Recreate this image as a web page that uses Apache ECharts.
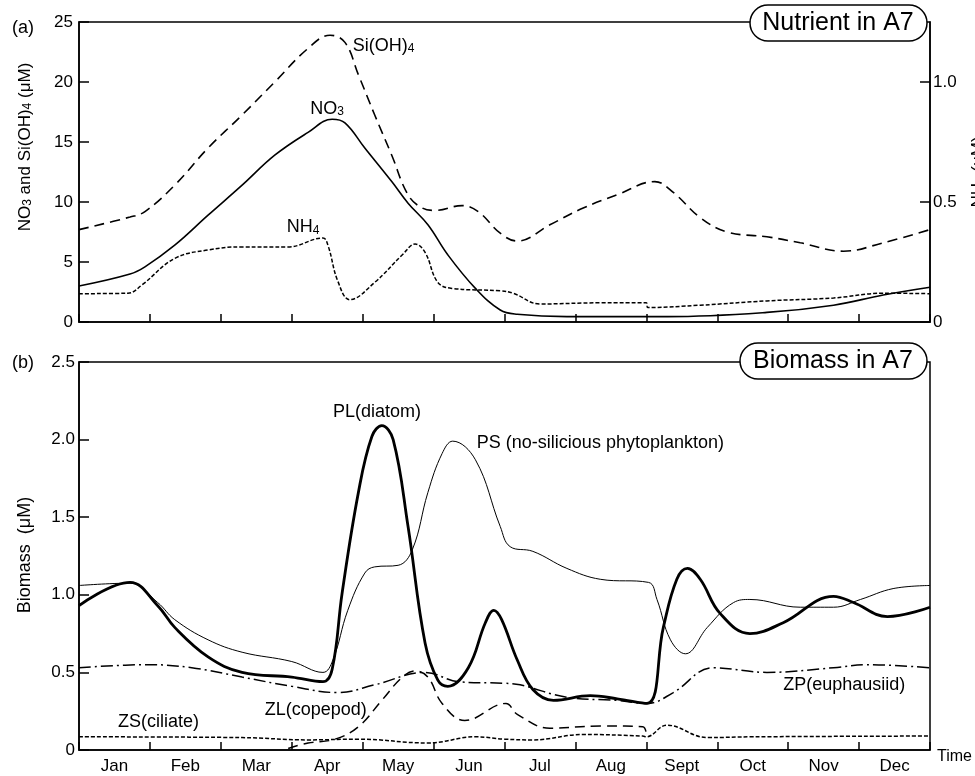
<!DOCTYPE html>
<html><head><meta charset="utf-8">
<script src="https://cdn.jsdelivr.net/npm/echarts@6/dist/echarts.min.js"></script>
<style>html,body{margin:0;padding:0;background:#fff}#c{width:975px;height:776px}</style>
</head><body><div id="c"></div>
<script>
// ---------- data (x = months since 1 Jan, y = value) ----------
const months = ['Jan','Feb','Mar','Apr','May','Jun','Jul','Aug','Sept','Oct','Nov','Dec'];
const monthCenters = [0.5,1.5,2.5,3.5,4.5,5.5,6.5,7.5,8.5,9.5,10.5,11.5];
const nh4Ticks = [0, 0.5, 1.0];

// (a) nutrients, μM
const siOH4 = [[0,7.7],[0.72,8.75],[0.93,9.2],[1.35,11.4],[1.82,14.5],[2.3,17.25],[2.76,20],[3.23,22.8],[3.54,23.9],[3.75,23.3],[3.94,20.6],[4.17,17.25],[4.41,13.9],[4.64,10.6],[4.84,9.5],[5.02,9.3],[5.4,9.7],[5.63,9.2],[5.94,7.4],[6.18,6.75],[6.64,8.1],[7.11,9.5],[7.59,10.6],[8.12,11.7],[8.38,10.8],[8.76,8.7],[9.14,7.5],[9.7,7.1],[10.17,6.6],[10.78,5.9],[11.34,6.6],[12,7.7]];
const no3 = [[0,3.0],[0.72,4.0],[0.93,4.6],[1.35,6.4],[1.82,8.9],[2.3,11.4],[2.76,13.9],[3.23,15.8],[3.57,16.9],[3.75,16.6],[4.03,14.5],[4.41,11.7],[4.64,9.9],[4.92,8.1],[5.2,5.6],[5.59,2.8],[5.94,1.0],[6.18,0.65],[6.88,0.45],[8.3,0.45],[9.7,0.8],[10.64,1.4],[11.34,2.25],[12,2.9]];
const nh4 = [[0,0.118],[0.69,0.12],[0.89,0.155],[1.35,0.265],[1.82,0.30],[2.3,0.313],[2.95,0.313],[3.44,0.35],[3.51,0.32],[3.65,0.17],[3.82,0.093],[4.17,0.165],[4.56,0.28],[4.74,0.325],[4.88,0.29],[5.06,0.165],[5.26,0.14],[5.94,0.13],[6.12,0.12],[6.5,0.075],[7.35,0.08],[8.0,0.08],[8.02,0.06],[8.76,0.07],[9.7,0.088],[10.64,0.10],[11.34,0.12],[12,0.118]];

// (b) biomass, μM
const plDiatom = [[0,0.93],[0.72,1.08],[1.11,0.93],[1.35,0.79],[1.82,0.60],[2.3,0.50],[3.0,0.47],[3.44,0.44],[3.57,0.52],[3.71,1.01],[3.94,1.66],[4.13,2.02],[4.27,2.09],[4.43,2.0],[4.64,1.44],[4.88,0.69],[5.06,0.45],[5.2,0.41],[5.49,0.53],[5.73,0.82],[5.85,0.90],[5.96,0.84],[6.18,0.58],[6.4,0.39],[6.69,0.32],[7.21,0.35],[7.59,0.33],[8.01,0.30],[8.24,0.79],[8.43,1.10],[8.58,1.17],[8.76,1.10],[9.04,0.88],[9.46,0.75],[9.93,0.82],[10.64,0.99],[10.92,0.95],[11.4,0.86],[12,0.92]];
const psNonSil = [[0,1.06],[0.72,1.075],[1.11,0.95],[1.35,0.84],[1.82,0.71],[2.3,0.63],[3.0,0.57],[3.44,0.50],[3.58,0.58],[3.79,0.90],[4.03,1.14],[4.17,1.18],[4.5,1.19],[4.7,1.29],[4.92,1.66],[5.12,1.91],[5.27,1.99],[5.59,1.87],[5.94,1.44],[6.08,1.31],[6.4,1.28],[6.88,1.17],[7.35,1.10],[8.03,1.08],[8.15,0.97],[8.34,0.71],[8.55,0.62],[8.86,0.79],[9.23,0.95],[9.46,0.97],[10.17,0.92],[10.64,0.92],[11.02,0.97],[11.48,1.04],[12,1.06]];
const zpEuph = [[0,0.53],[0.97,0.55],[1.59,0.53],[2.3,0.47],[3.0,0.41],[3.65,0.37],[4.17,0.42],[4.88,0.50],[5.35,0.44],[6.0,0.43],[6.22,0.42],[6.88,0.34],[7.59,0.32],[8.01,0.30],[8.38,0.37],[8.94,0.53],[9.7,0.50],[10.64,0.53],[11.1,0.55],[12,0.53]];
const zlCope = [[2.95,0.01],[3.23,0.045],[3.61,0.07],[3.94,0.15],[4.27,0.32],[4.56,0.47],[4.74,0.51],[4.92,0.47],[5.12,0.30],[5.44,0.19],[6.02,0.30],[6.18,0.23],[6.64,0.14],[7.35,0.155],[7.95,0.15],[8.0,0.10]];
const zsCil = [[0,0.085],[2.3,0.08],[3.23,0.065],[3.94,0.07],[4.92,0.045],[5.59,0.085],[6.0,0.07],[6.4,0.065],[7.11,0.10],[7.95,0.09],[8.0,0.085],[8.29,0.16],[8.86,0.08],[9.5,0.085],[12,0.09]];

// ---------- styling ----------
const FONT = "'Liberation Sans', Arial, Helvetica, sans-serif";
const BLACK = '#000';
const chart = echarts.init(document.getElementById('c'), null, {renderer: 'canvas'});

function line(name, data, xi, yi, width, type) {
  return {
    name, type: 'line', data, xAxisIndex: xi, yAxisIndex: yi,
    showSymbol: false, symbol: 'none', smooth: 0.4,
    lineStyle: {color: BLACK, width, type}, silent: true, z: 3
  };
}
const decFmt = v => v === 0 ? '0' : v.toFixed(1);
const axisLineStyle = {show: true, lineStyle: {color: BLACK, width: 1.5}};
const tickStyle = {color: BLACK, width: 1.5};

const option = {
  animation: false,
  backgroundColor: '#fff',
  textStyle: {fontFamily: FONT, color: BLACK},
  grid: [
    {left: 79, top: 22, width: 851, height: 300, show: true, borderColor: BLACK, borderWidth: 1.5, containLabel: false, outerBoundsMode: 'none'},
    {left: 79, top: 362, width: 851, height: 388, show: true, borderColor: BLACK, borderWidth: 1.5, containLabel: false, outerBoundsMode: 'none'}
  ],
  xAxis: [
    {type: 'value', gridIndex: 0, min: 0, max: 12, interval: 1,
     axisLine: axisLineStyle,
     axisTick: {show: true, inside: true, length: 8, lineStyle: tickStyle},
     axisLabel: {show: false}, splitLine: {show: false}},
    {type: 'value', gridIndex: 1, min: 0, max: 12, interval: 1,
     axisLine: axisLineStyle,
     axisTick: {show: true, inside: true, length: 8, lineStyle: tickStyle},
     axisLabel: {show: true, customValues: monthCenters, formatter: v => months[Math.floor(v)],
                 color: BLACK, fontSize: 17, fontFamily: FONT, margin: 8},
     splitLine: {show: false}}
  ],
  yAxis: [
    {type: 'value', gridIndex: 0, min: 0, max: 25, interval: 5,
     axisLine: axisLineStyle,
     axisTick: {show: true, inside: true, length: 10, lineStyle: tickStyle},
     axisLabel: {color: BLACK, fontSize: 17, fontFamily: FONT, margin: 6},
     splitLine: {show: false}},
    {type: 'value', gridIndex: 0, position: 'right', min: 0, max: 1.25,
     axisLine: axisLineStyle,
     axisTick: {show: true, inside: true, length: 10, customValues: nh4Ticks, lineStyle: tickStyle},
     axisLabel: {color: BLACK, fontSize: 17, fontFamily: FONT, margin: 3, customValues: nh4Ticks, formatter: decFmt},
     splitLine: {show: false}},
    {type: 'value', gridIndex: 1, min: 0, max: 2.5, interval: 0.5,
     axisLine: axisLineStyle,
     axisTick: {show: true, inside: true, length: 10, lineStyle: tickStyle},
     axisLabel: {color: BLACK, fontSize: 17, fontFamily: FONT, margin: 4, formatter: decFmt},
     splitLine: {show: false}}
  ],
  series: [
    line('Si(OH)4', siOH4, 0, 0, 1.6, [10, 6]),
    line('NO3', no3, 0, 0, 1.6, 'solid'),
    line('NH4', nh4, 0, 1, 1.5, [4, 2]),
    line('PL(diatom)', plDiatom, 1, 2, 2.8, 'solid'),
    line('PS (no-silicious phytoplankton)', psNonSil, 1, 2, 1, 'solid'),
    line('ZP(euphausiid)', zpEuph, 1, 2, 1.5, [12, 4, 2, 4]),
    line('ZL(copepod)', zlCope, 1, 2, 1.5, [10, 6]),
    line('ZS(ciliate)', zsCil, 1, 2, 1.5, [4, 2])
  ]
};
chart.setOption(option);

// ---------- text annotations (anchored in data coordinates) ----------
const richStyle = {
  n: {fontSize: 18, fontFamily: FONT, fill: BLACK, verticalAlign: 'bottom'},
  s: {fontSize: 12, fontFamily: FONT, fill: BLACK, verticalAlign: 'bottom'}
};
const annotations = [
  {text: '{n|Si(OH)}{s|4}', pos: [3.86, 23.0], grid: 0},
  {text: '{n|NO}{s|3}', pos: [3.26, 17.75], grid: 0},
  {text: '{n|NH}{s|4}', pos: [2.93, 7.9], grid: 0},
  {text: '{n|PL(diatom)}', pos: [3.58, 2.18], grid: 1},
  {text: '{n|PS (no-silicious phytoplankton)}', pos: [5.61, 1.98], grid: 1},
  {text: '{n|ZS(ciliate)}', pos: [0.55, 0.18], grid: 1},
  {text: '{n|ZL(copepod)}', pos: [2.62, 0.26], grid: 1},
  {text: '{n|ZP(euphausiid)}', pos: [9.93, 0.42], grid: 1}
];
const graphics = [];
annotations.forEach(a => {
  const p = chart.convertToPixel(a.grid === 0 ? {xAxisIndex: 0, yAxisIndex: 0} : {xAxisIndex: 1, yAxisIndex: 2}, a.pos);
  graphics.push({type: 'text', x: p[0], y: p[1], z: 10,
    style: {text: a.text, rich: richStyle, align: 'left', verticalAlign: 'middle'}});
});

// panel titles in rounded boxes
graphics.push({type: 'rect', shape: {x: 750, y: 5, width: 177, height: 36, r: 18}, z: 20,
  style: {fill: '#fff', stroke: BLACK, lineWidth: 1.5}});
graphics.push({type: 'text', x: 838, y: 23, z: 21,
  style: {text: 'Nutrient in A7', fontSize: 25, fontFamily: FONT, fill: BLACK, align: 'center', verticalAlign: 'middle'}});
graphics.push({type: 'rect', shape: {x: 740, y: 343, width: 187, height: 36, r: 18}, z: 20,
  style: {fill: '#fff', stroke: BLACK, lineWidth: 1.5}});
graphics.push({type: 'text', x: 833, y: 361, z: 21,
  style: {text: 'Biomass in A7', fontSize: 25, fontFamily: FONT, fill: BLACK, align: 'center', verticalAlign: 'middle'}});

// panel letters
graphics.push({type: 'text', x: 12, y: 28, style: {text: '(a)', fontSize: 18, fontFamily: FONT, fill: BLACK, align: 'left', verticalAlign: 'middle'}});
graphics.push({type: 'text', x: 12, y: 363, style: {text: '(b)', fontSize: 18, fontFamily: FONT, fill: BLACK, align: 'left', verticalAlign: 'middle'}});

// axis titles
const axRich = {
  n: {fontSize: 17, fontFamily: FONT, fill: BLACK, verticalAlign: 'bottom'},
  s: {fontSize: 12, fontFamily: FONT, fill: BLACK, verticalAlign: 'bottom'}
};
graphics.push({type: 'text', x: 25, y: 147, rotation: Math.PI / 2,
  style: {text: '{n|NO}{s|3}{n| and Si(OH)}{s|4}{n| (μM)}', rich: axRich, align: 'center', verticalAlign: 'middle'}});
graphics.push({type: 'text', x: 978, y: 172, rotation: Math.PI / 2,
  style: {text: '{n|NH}{s|4}{n| (μM)}', rich: axRich, align: 'center', verticalAlign: 'middle'}});
graphics.push({type: 'text', x: 25, y: 555, rotation: Math.PI / 2,
  style: {text: 'Biomass  (μM)', fontSize: 18, fontFamily: FONT, fill: BLACK, align: 'center', verticalAlign: 'middle'}});
graphics.push({type: 'text', x: 937, y: 757,
  style: {text: 'Time', fontSize: 16, fontFamily: FONT, fill: BLACK, align: 'left', verticalAlign: 'middle'}});

chart.setOption({graphic: graphics});
</script>
</body></html>
